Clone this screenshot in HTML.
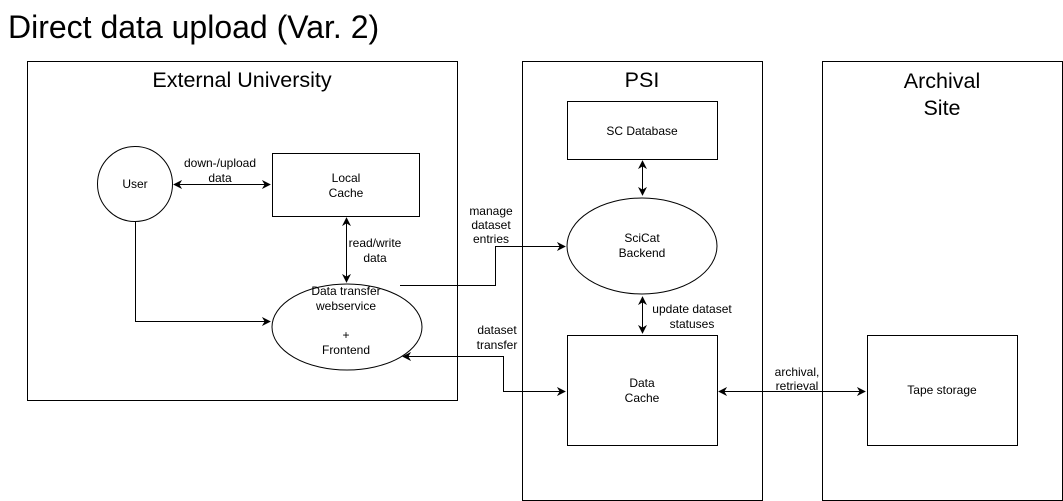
<!DOCTYPE html>
<html><head><meta charset="utf-8"><style>
html,body{margin:0;padding:0;background:#fff;}
svg{display:block;font-family:"Liberation Sans",Arial,sans-serif;}
</style></head><body>
<svg width="1063" height="501" viewBox="0 0 1063 501" xmlns="http://www.w3.org/2000/svg">
<defs>
<marker id="a" viewBox="0 0 10 10" refX="9" refY="5" markerWidth="9" markerHeight="9" orient="auto-start-reverse" markerUnits="userSpaceOnUse">
<path d="M0,0 L10,5 L0,10 L3,5 Z" fill="#000"/>
</marker>
</defs>
<g fill="none" stroke="#000" stroke-width="1">
<rect x="27.5" y="61.5" width="430" height="339"/>
<rect x="522.5" y="61.5" width="240" height="439"/>
<rect x="822.5" y="61.5" width="240" height="439"/>
<circle cx="135" cy="184" r="37.5"/>
<rect x="272.5" y="153.5" width="147" height="63"/>
<ellipse cx="347" cy="327" rx="75" ry="43"/>
<rect x="567.5" y="101.5" width="150" height="58"/>
<ellipse cx="642" cy="246" rx="75" ry="48"/>
<rect x="567.5" y="335.5" width="150" height="110"/>
<rect x="867.5" y="335.5" width="150" height="110"/>
<path d="M174,184.5 H270" marker-start="url(#a)" marker-end="url(#a)"/>
<path d="M346.5,218 V282" marker-start="url(#a)" marker-end="url(#a)"/>
<path d="M135.5,222 V321.5 H270" marker-end="url(#a)"/>
<path d="M400,285.5 H495.5 V246.5 H565" marker-end="url(#a)"/>
<path d="M565,391.5 H503.5 V356.5 H403" marker-start="url(#a)" marker-end="url(#a)"/>
<path d="M719,391.5 H865" marker-start="url(#a)" marker-end="url(#a)"/>
<path d="M642.5,297 V333" marker-start="url(#a)" marker-end="url(#a)"/>
<path d="M642.5,161 V195" marker-start="url(#a)" marker-end="url(#a)"/>
</g>
<g fill="#000" text-anchor="middle">
<text x="8" y="38" font-size="32" text-anchor="start">Direct data upload (Var. 2)</text>
<text x="242" y="87" font-size="21.5">External University</text>
<text x="642" y="87" font-size="21.5">PSI</text>
<text x="942" y="88" font-size="21.5">Archival</text>
<text x="942" y="115" font-size="21.5">Site</text>
<g font-size="12">
<text x="135" y="188">User</text>
<text x="346" y="182">Local</text>
<text x="346" y="197">Cache</text>
<text x="346" y="295">Data transfer</text>
<text x="346" y="310">webservice</text>
<text x="346" y="339">+</text>
<text x="346" y="354">Frontend</text>
<text x="642" y="135">SC Database</text>
<text x="642" y="242">SciCat</text>
<text x="642" y="257">Backend</text>
<text x="642" y="387">Data</text>
<text x="642" y="402">Cache</text>
<text x="942" y="394">Tape storage</text>
<text x="220" y="167">down-/upload</text>
<text x="220" y="182">data</text>
<text x="375" y="247">read/write</text>
<text x="375" y="262">data</text>
<text x="491" y="215">manage</text>
<text x="491" y="229">dataset</text>
<text x="491" y="243">entries</text>
<text x="497" y="334">dataset</text>
<text x="497" y="349">transfer</text>
<text x="692" y="313">update dataset</text>
<text x="692" y="328">statuses</text>
<text x="797" y="376">archival,</text>
<text x="797" y="390">retrieval</text>
</g>
</g>
</svg>
</body></html>
